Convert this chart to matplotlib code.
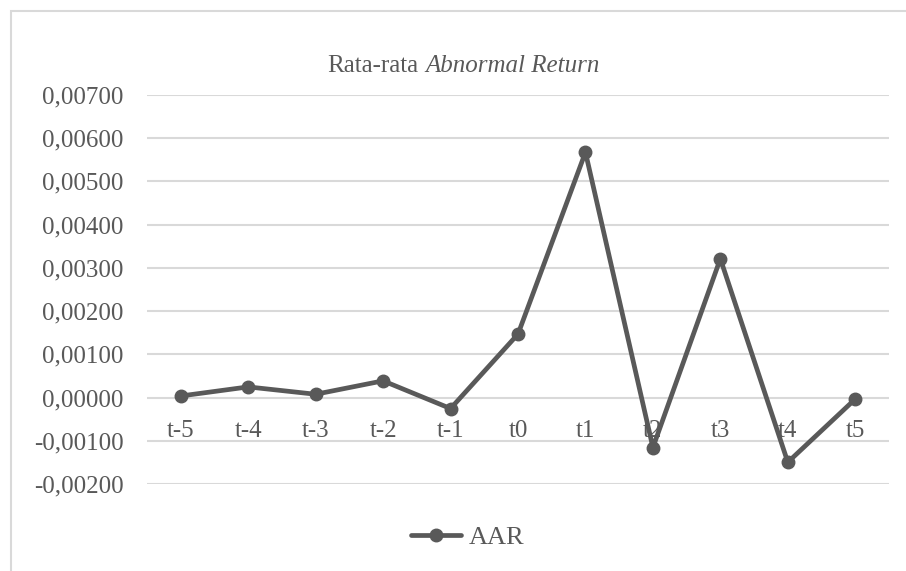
import matplotlib
matplotlib.use("Agg")
import matplotlib.pyplot as plt
from matplotlib.ticker import FuncFormatter, MultipleLocator
from matplotlib.patches import Rectangle

# data
periods = ["t-5", "t-4", "t-3", "t-2", "t-1", "t0", "t1", "t2", "t3", "t4", "t5"]
aar = [0.00004, 0.00025, 0.00008, 0.00039, -0.00025, 0.00147,
       0.00567, -0.00115, 0.00321, -0.00149, -0.00003]

plt.rcParams['font.family'] = ['Liberation Serif', 'DejaVu Serif']

W, H = 906, 571
fig = plt.figure(figsize=(W / 100, H / 100), dpi=100)
ax = fig.add_axes([147 / W, 1 - 484.3 / H, (889 - 147) / W, (484.3 - 94.7) / H])

text_col = '#595959'
grid_col = '#d9d9d9'

# outer chart border (runs off the right and bottom edges)
fig.patches.append(Rectangle((11 / W, -0.1), 1.2, 1 - 11 / H + 0.1, transform=fig.transFigure,
                             fill=False, edgecolor=grid_col, linewidth=1.5))

x = list(range(len(periods)))
ax.plot(x, aar, color='#595959', linewidth=3.4, marker='o', markersize=9,
        label='AAR', solid_capstyle='round', zorder=3)

ax.set_xlim(-0.5, len(periods) - 0.5)
ax.set_ylim(-0.002, 0.007)
ax.yaxis.set_major_locator(MultipleLocator(0.001))
ax.yaxis.set_major_formatter(FuncFormatter(lambda v, p: ('%.5f' % v).replace('.', ',').replace('-0,00000', '0,00000')))
ax.grid(axis='y', color=grid_col, linewidth=1.5)
ax.set_axisbelow(True)

for s in ax.spines.values():
    s.set_visible(False)
ax.spines['bottom'].set_position(('data', 0))

ax.set_xticks(x)
ax.set_xticklabels(periods)
ax.tick_params(axis='both', length=0, labelsize=18, labelcolor=text_col)
ax.tick_params(axis='y', pad=17)
ax.tick_params(axis='x', pad=16)

# title: normal + italic part
title_y = 1 - 66 / H
fig.text(418 / W, title_y, "Rata-rata", ha='right', va='center', fontsize=18, color=text_col)
fig.text(425 / W, title_y, "Abnormal Return", ha='left', va='center', fontsize=18,
         style='italic', color=text_col)

fig.legend(loc='center', bbox_to_anchor=(468 / W, 1 - 537 / H), frameon=False,
           fontsize=19, labelcolor=text_col, handlelength=1.9, handletextpad=0.3)

fig.savefig('out.png', dpi=100)
